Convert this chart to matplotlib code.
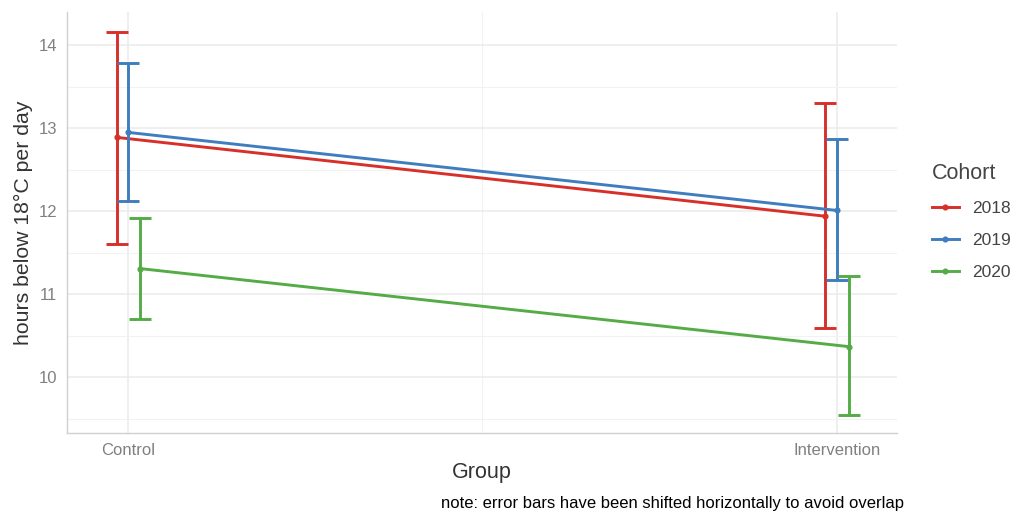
import matplotlib.pyplot as plt
from matplotlib.lines import Line2D

plt.rcParams['font.family'] = ['Liberation Sans', 'DejaVu Sans']

groups = ["Control", "Intervention"]
cohorts = ["2018", "2019", "2020"]
colors = ["#D7302A", "#3F7DBF", "#55AC47"]

# mean, lower, upper per cohort (Control, Intervention)
means = {"2018": [12.89, 11.94], "2019": [12.95, 12.01], "2020": [11.31, 10.37]}
lower = {"2018": [11.61, 10.60], "2019": [12.12, 11.17], "2020": [10.70, 9.55]}
upper = {"2018": [14.16, 13.30], "2019": [13.78, 12.87], "2020": [11.92, 11.22]}
shift = [-0.016, 0.0, 0.017]  # horizontal dodge of error bars

fig = plt.figure(figsize=(10.17, 5.14), dpi=100)
ax = fig.add_axes([0.0659, 0.1576, 0.8161, 0.8191])

xpos = [1, 2]
handles = []
for i, c in enumerate(cohorts):
    col = colors[i]
    xs = [x + shift[i] for x in xpos]
    ax.plot(xs, means[c], color=col, lw=2.1, zorder=3)
    ax.plot(xs, means[c], 'o', color=col, ms=3.4, zorder=4)
    yerr = [[m - l for m, l in zip(means[c], lower[c])],
            [u - m for m, u in zip(means[c], upper[c])]]
    ax.errorbar(xs, means[c], yerr=yerr, fmt='none', ecolor=col,
                elinewidth=2.1, capsize=8, capthick=2.1, zorder=3)
    handles.append(Line2D([0], [0], color=col, lw=2.1, marker='o', ms=3.4))

ax.set_xlim(0.914, 2.085)
ax.set_ylim(9.33, 14.40)
ax.set_xticks(xpos)
ax.set_xticklabels(groups)
ax.set_xticks([1.5], minor=True)
ax.set_yticks([10, 11, 12, 13, 14])
ax.set_yticks([9.5, 10.5, 11.5, 12.5, 13.5], minor=True)
ax.grid(True, which='major', color='#EBEBEB', lw=1.1)
ax.grid(True, which='minor', color='#F2F2F2', lw=0.8)
ax.set_axisbelow(True)
ax.tick_params(which='both', length=0)
ax.tick_params(axis='both', colors='#808080', labelsize=12)
ax.tick_params(axis='x', pad=7)
ax.tick_params(axis='y', pad=7)

for s in ['top', 'right']:
    ax.spines[s].set_visible(False)
for s in ['left', 'bottom']:
    ax.spines[s].set_color('#D0D0D0')
    ax.spines[s].set_linewidth(1.0)

ax.set_ylabel("hours below 18°C per day", fontsize=15.3, color='#333333', va='center')
ax.yaxis.set_label_coords(-0.052, 0.5)
ax.set_xlabel("Group", fontsize=15.5, color='#333333', va='center')
ax.xaxis.set_label_coords(0.5, -0.095)

leg = fig.legend(handles, cohorts, title="Cohort", loc='upper left',
                 bbox_to_anchor=(0.901, 0.714), frameon=False, fontsize=12.5,
                 title_fontsize=15.5, handlelength=1.55, labelspacing=0.98,
                 handletextpad=0.75)
leg._legend_box.align = "left"
for t in leg.get_texts():
    t.set_color('#444444')
leg.get_title().set_color('#444444')

fig.text(0.4336, 0.0214, "note: error bars have been shifted horizontally to avoid overlap",
         fontsize=12, color='black', va='center')

fig.savefig("out.png", dpi=100)
